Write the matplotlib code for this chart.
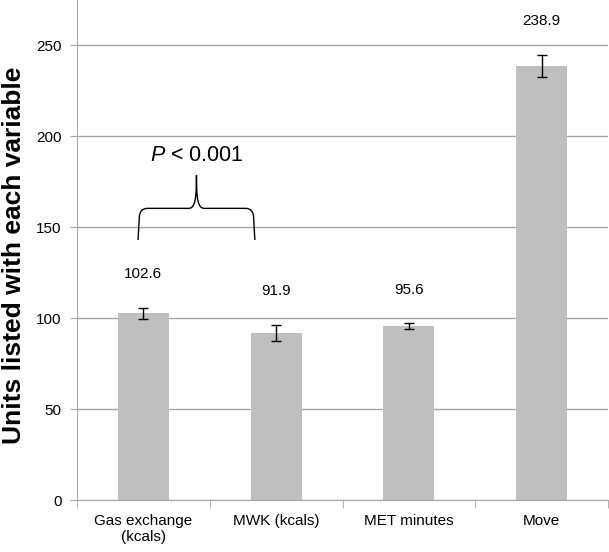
import matplotlib
matplotlib.use("Agg")
import matplotlib.pyplot as plt
from matplotlib.path import Path
from matplotlib.patches import PathPatch

plt.rcParams["font.family"] = ["Liberation Sans", "DejaVu Sans"]
plt.rcParams["mathtext.fontset"] = "custom"
plt.rcParams["mathtext.it"] = "Liberation Sans:italic"
plt.rcParams["mathtext.rm"] = "Liberation Sans"

# Data
categories = ["Gas exchange\n(kcals)", "MWK (kcals)", "MET minutes", "Move"]
values = [102.6, 91.9, 95.6, 238.9]
errors = [3.2, 4.5, 1.5, 6.0]
value_labels = ["102.6", "91.9", "95.6", "238.9"]
yticks = [0, 50, 100, 150, 200, 250]

grey = "#a6a6a6"

fig = plt.figure(figsize=(6.09, 5.52), dpi=100)
ax = fig.add_axes([0.1264, 0.0942, 0.872, 0.9058])

x = list(range(len(categories)))
ax.bar(x, values, width=0.385, color="#bfbfbf", zorder=2)
ax.errorbar(x, values, yerr=errors, fmt="none", ecolor="black",
            elinewidth=1, capsize=3.5, capthick=1, zorder=3)

for xi, v, e, lab in zip(x, values, errors, value_labels):
    ax.annotate(lab, (xi, v + e), xytext=(0, 24), textcoords="offset points",
                ha="center", va="center", fontsize=11)

ax.set_xlim(-0.5, 3.5)
ax.set_ylim(0, 275)
ax.set_yticks(yticks)
ax.set_xticks(x)
ax.set_xticklabels(categories, fontsize=11)
ax.set_xticks([-0.5, 0.5, 1.5, 2.5, 3.5], minor=True)
ax.tick_params(axis="x", which="major", length=0, pad=10)
ax.tick_params(axis="x", which="minor", length=6, color=grey)
ax.tick_params(axis="y", length=5, color=grey, labelsize=11, pad=6)
ax.yaxis.grid(True, color=grey, linewidth=1, zorder=0)
ax.set_axisbelow(True)
for side in ["top", "right"]:
    ax.spines[side].set_visible(False)
for side in ["left", "bottom"]:
    ax.spines[side].set_color(grey)

ax.set_ylabel("Units listed with each variable", fontsize=19,
              fontweight="bold")
ax.yaxis.set_label_coords(-0.096, 0.49)

# curly brace over first two bars
x0, x1, xc = -0.04, 0.84, 0.40
yb, yh, yt = 143, 160.4, 178.6
verts = [
    (x0, yb), (x0 + 0.01, yh - 4.4),
    (x0 + 0.015, yh), (x0 + 0.07, yh),
    (xc - 0.06, yh),
    (xc - 0.01, yh), (xc, yh + 5), (xc, yt),
    (xc, yh + 5), (xc + 0.01, yh), (xc + 0.06, yh),
    (x1 - 0.07, yh),
    (x1 - 0.015, yh), (x1 - 0.01, yh - 4.4),
    (x1, yb),
]
codes = [
    Path.MOVETO, Path.LINETO,
    Path.CURVE3, Path.CURVE3,
    Path.LINETO,
    Path.CURVE4, Path.CURVE4, Path.CURVE4,
    Path.CURVE4, Path.CURVE4, Path.CURVE4,
    Path.LINETO,
    Path.CURVE3, Path.CURVE3,
    Path.LINETO,
]
ax.add_patch(PathPatch(Path(verts, codes), facecolor="none",
                       edgecolor="black", linewidth=1, zorder=4))
ax.text(xc, 189.5, r"$\it{P}$ < 0.001", ha="center", va="center", fontsize=15.5)

plt.savefig("out.png", dpi=100)
